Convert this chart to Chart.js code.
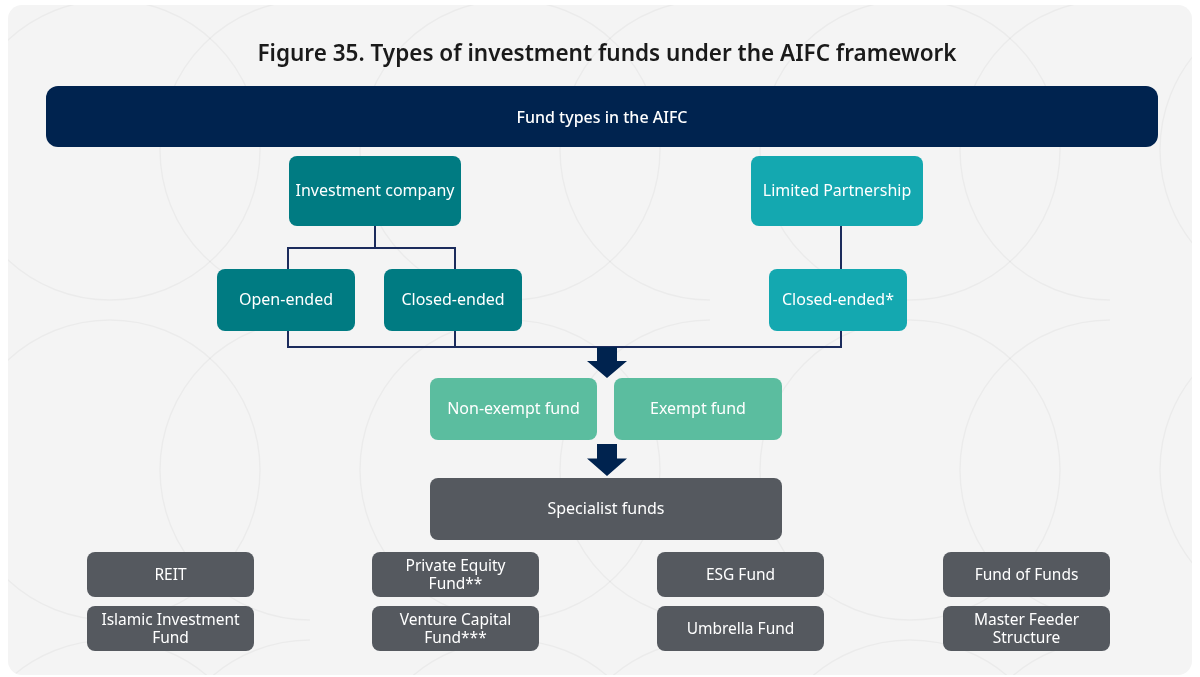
<!DOCTYPE html>
<html>
<head>
<meta charset="utf-8">
<title>Types of investment funds under the AIFC framework</title>
<script src="https://cdn.jsdelivr.net/npm/chart.js@4.4.1/dist/chart.umd.min.js"></script>
<style>
  html, body { margin: 0; padding: 0; background: #ffffff; }
  #wrap { width: 1200px; height: 677px; }
</style>
</head>
<body>
<div id="wrap"><canvas id="chart" width="1200" height="677"></canvas></div>
<script>
const titleText = 'Figure 35. Types of investment funds under the AIFC framework';

// diagram nodes (labels) and which level they sit on
const nodeLabels = [
  'Fund types in the AIFC',
  'Investment company', 'Limited Partnership',
  'Open-ended', 'Closed-ended', 'Closed-ended*',
  'Non-exempt fund', 'Exempt fund',
  'Specialist funds',
  'REIT', 'Private Equity\nFund**', 'ESG Fund', 'Fund of Funds',
  'Islamic Investment\nFund', 'Venture Capital\nFund***', 'Umbrella Fund', 'Master Feeder\nStructure'
];
const nodeKinds = [
  'header',
  'teal', 'aqua',
  'teal', 'teal', 'aqua',
  'mint', 'mint',
  'grey',
  'grey', 'grey', 'grey', 'grey',
  'grey', 'grey', 'grey', 'grey'
];

// layout: [x0, y0, x1, y1] in diagram units (page pixels)
const nodeBoxes = [
  [46, 86, 1158, 147],
  [289, 156, 461, 226], [751, 156, 923, 226],
  [217, 269, 355, 331], [384, 269, 522, 331], [769, 269, 907, 331],
  [430, 378, 597, 440], [614, 378, 782, 440],
  [430, 478, 782, 540],
  [87, 552, 254, 597], [372, 552, 539, 597], [657, 552, 824, 597], [943, 552, 1110, 597],
  [87, 606, 254, 651], [372, 606, 539, 651], [657, 606, 824, 651], [943, 606, 1110, 651]
];

// connector polylines
const connectors = [
  [[375, 226], [375, 248]],
  [[288, 269], [288, 248], [455, 248], [455, 269]],
  [[841, 226], [841, 269]],
  [[288, 331], [288, 347], [841, 347], [841, 331]],
  [[455, 331], [455, 347]]
];
// block arrows: [x, yTop, yTip]
const arrows = [[607, 347, 378], [607, 444, 476]];

const kindColors = {
  header: '#00234f', teal: '#007b82', aqua: '#14a8b0', mint: '#5bbd9f', grey: '#55595f'
};
const lineColor = '#1b2b5c';

function roundRect(ctx, x, y, w, h, r) {
  ctx.beginPath();
  ctx.moveTo(x + r, y);
  ctx.arcTo(x + w, y, x + w, y + h, r);
  ctx.arcTo(x + w, y + h, x, y + h, r);
  ctx.arcTo(x, y + h, x, y, r);
  ctx.arcTo(x, y, x + w, y, r);
  ctx.closePath();
}

const diagramPlugin = {
  id: 'diagram',
  beforeDraw(chart) {
    const ctx = chart.ctx;
    const sx = chart.scales.x, sy = chart.scales.y;
    const X = v => sx.getPixelForValue(v), Y = v => sy.getPixelForValue(v);
    ctx.save();
    roundRect(ctx, X(8), Y(5), X(1192) - X(8), Y(675) - Y(5), 14);
    ctx.fillStyle = '#f4f4f4';
    ctx.fill();
    ctx.clip();
    // faint background arcs
    ctx.strokeStyle = 'rgba(0,0,0,0.035)';
    ctx.lineWidth = 1.5;
    for (let gx = 0; gx <= 1300; gx += 400) {
      for (let gy = 0; gy <= 700; gy += 320) {
        ctx.beginPath(); ctx.arc(X(gx + 110), Y(gy + 150), 150, 0, Math.PI * 2); ctx.stroke();
        ctx.beginPath(); ctx.arc(X(gx + 310), Y(gy + 150), 150, Math.PI * 0.5, Math.PI * 1.5); ctx.stroke();
      }
    }
    ctx.restore();

    ctx.save();
    ctx.fillStyle = '#1a1a1a';
    ctx.font = '600 22.5px "Noto Sans", sans-serif';
    ctx.textAlign = 'center';
    ctx.textBaseline = 'middle';
    ctx.fillText(titleText, X(607), Y(55));
    ctx.restore();
  },
  afterDatasetsDraw(chart) {
    const ctx = chart.ctx;
    const sx = chart.scales.x, sy = chart.scales.y;
    const X = v => sx.getPixelForValue(v), Y = v => sy.getPixelForValue(v);
    ctx.save();
    // arrows
    ctx.fillStyle = '#00234f';
    arrows.forEach(([x, y0, y1]) => {
      const neck = y0 + (y1 - y0) * 0.45;
      ctx.beginPath();
      ctx.moveTo(X(x - 10), Y(y0));
      ctx.lineTo(X(x + 10), Y(y0));
      ctx.lineTo(X(x + 10), Y(neck));
      ctx.lineTo(X(x + 20), Y(neck));
      ctx.lineTo(X(x), Y(y1));
      ctx.lineTo(X(x - 20), Y(neck));
      ctx.lineTo(X(x - 10), Y(neck));
      ctx.closePath();
      ctx.fill();
    });
    // boxes
    nodeBoxes.forEach((b, i) => {
      const x0 = X(b[0]), y0 = Y(b[1]), x1 = X(b[2]), y1 = Y(b[3]);
      const kind = nodeKinds[i];
      roundRect(ctx, x0, y0, x1 - x0, y1 - y0, kind === 'header' ? 12 : 8);
      ctx.fillStyle = kindColors[kind];
      ctx.fill();
      const lines = nodeLabels[i].split('\n');
      const fs = i > 8 ? 15.5 : 16;
      ctx.fillStyle = '#ffffff';
      ctx.font = (kind === 'header' ? '500 ' : '') + fs + 'px "Noto Sans", sans-serif';
      ctx.textAlign = 'center';
      ctx.textBaseline = 'middle';
      const nudge = kind === 'header' ? 2 : (i > 8 ? 1.5 : 0);
      const cx = (x0 + x1) / 2, cy = (y0 + y1) / 2 + nudge;
      const lh = 18;
      lines.forEach((t, k) => {
        ctx.fillText(t, cx, cy + (k - (lines.length - 1) / 2) * lh);
      });
    });
    ctx.restore();
  }
};

new Chart(document.getElementById('chart'), {
  type: 'scatter',
  data: {
    datasets: connectors.map(pts => ({
      data: pts.map(p => ({ x: p[0], y: p[1] })),
      showLine: true,
      borderColor: lineColor,
      borderWidth: 2,
      pointRadius: 0,
      fill: false,
      tension: 0
    }))
  },
  options: {
    responsive: false,
    animation: false,
    events: [],
    layout: { padding: 0 },
    plugins: { legend: { display: false }, tooltip: { enabled: false }, title: { display: false } },
    scales: {
      x: { type: 'linear', min: 0, max: 1200, display: false },
      y: { type: 'linear', min: 0, max: 677, reverse: true, display: false }
    }
  },
  plugins: [diagramPlugin]
});
</script>
</body>
</html>
